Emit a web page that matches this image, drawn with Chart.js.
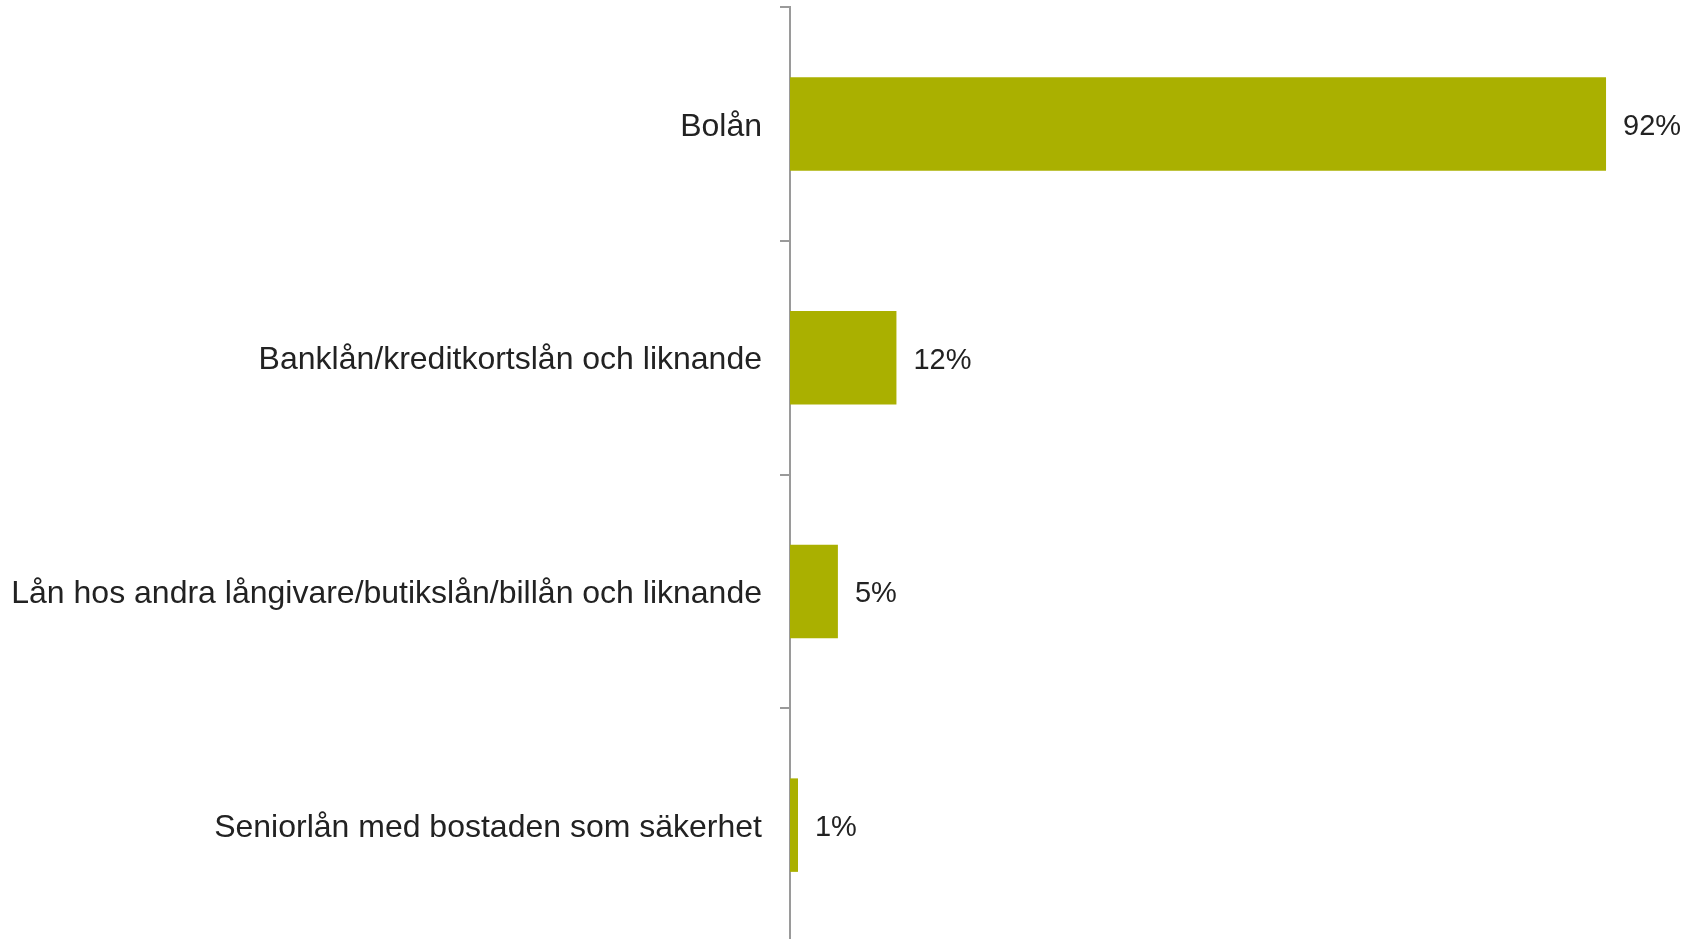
<!DOCTYPE html>
<html>
<head>
<meta charset="utf-8">
<script src="https://cdn.jsdelivr.net/npm/chart.js@4"></script>
<style>
  html, body { margin: 0; padding: 0; background: #fff; overflow: hidden; }
  #wrap { width: 1702px; height: 942px; }
</style>
</head>
<body>
<div id="wrap"><canvas id="loanChart"></canvas></div>
<script>
// Data
const categories = [
  "Bolån",
  "Banklån/kreditkortslån och liknande",
  "Lån hos andra långivare/butikslån/billån och liknande",
  "Seniorlån med bostaden som säkerhet"
];
const shares = [92, 12, 5.4, 0.9];
const shareLabels = ["92%", "12%", "5%", "1%"];

const FONT = '"Liberation Sans", Arial, sans-serif';
const TEXT = "#222222";
const AXIS = "#9a9a9a";

// Draw the value text to the right of each bar
const valueLabels = {
  id: "valueLabels",
  afterDatasetsDraw(chart) {
    const ctx = chart.ctx;
    const meta = chart.getDatasetMeta(0);
    ctx.save();
    ctx.font = "29px " + FONT;
    ctx.fillStyle = TEXT;
    ctx.textAlign = "left";
    ctx.textBaseline = "middle";
    meta.data.forEach((bar, i) => {
      ctx.fillText(shareLabels[i], bar.x + 17, bar.y + 3);
    });
    ctx.restore();
  }
};

new Chart(document.getElementById("loanChart"), {
  type: "bar",
  data: {
    labels: categories,
    datasets: [{
      data: shares,
      backgroundColor: "#aab000",
      borderWidth: 0,
      barPercentage: 0.4,
      categoryPercentage: 1.0
    }]
  },
  options: {
    indexAxis: "y",
    responsive: true,
    maintainAspectRatio: false,
    animation: false,
    layout: { padding: { top: 7, right: 25, bottom: 0, left: 0 } },
    plugins: {
      legend: { display: false },
      tooltip: { enabled: false }
    },
    scales: {
      x: {
        display: false,
        min: 0,
        max: 100
      },
      y: {
        afterFit(scale) {
          scale.width = 790;
          scale.paddingTop = 0;
          scale.paddingBottom = 0;
        },
        border: { display: true, color: AXIS, width: 2 },
        grid: {
          offset: true,
          drawOnChartArea: false,
          drawTicks: true,
          tickLength: 10,
          color: AXIS,
          lineWidth: 2
        },
        ticks: {
          padding: 18,
          labelOffset: 3,
          color: TEXT,
          font: { family: FONT, size: 32 }
        }
      }
    }
  },
  plugins: [valueLabels]
});
</script>
</body>
</html>
